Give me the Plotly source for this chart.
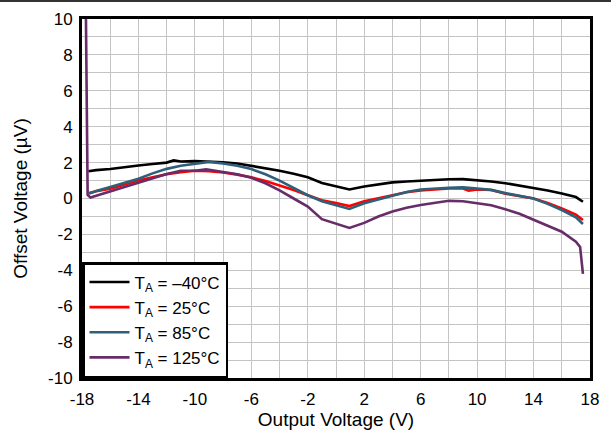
import plotly.graph_objects as go

# ---- data ----
x_m40 = [-17.55, -17, -16, -15, -14, -13, -12, -11.5, -11, -10, -9, -8, -7, -6, -5, -4, -3, -2, -1, 0, 0.95,
         2, 3, 4, 5, 6, 7, 8, 9, 10, 11, 12, 13, 14, 15, 16, 17, 17.5]
y_m40 = [1.52, 1.58, 1.64, 1.75, 1.84, 1.92, 2.0, 2.12, 2.06, 2.08, 2.06, 2.02, 1.95, 1.82, 1.70, 1.55, 1.38, 1.18, 0.86, 0.68, 0.5,
         0.67, 0.80, 0.9, 0.95, 1.0, 1.03, 1.07, 1.08, 1.02, 0.95, 0.85, 0.72, 0.55, 0.45, 0.28, 0.08, -0.18]

x_25 = [-17.5, -17, -16, -15, -14, -13, -12, -11, -10, -9, -8, -7, -6, -5, -4, -3, -2, -1, 0, 0.95,
        2, 3, 4, 5, 6, 7, 8, 9, 9.4, 10, 11, 12, 13, 14, 15, 16, 17, 17.5]
y_25 = [0.3, 0.4, 0.55, 0.78, 1.0, 1.18, 1.35, 1.47, 1.55, 1.52, 1.45, 1.33, 1.18, 0.97, 0.73, 0.47, 0.18, -0.1, -0.25, -0.42,
        -0.15, 0.03, 0.2, 0.35, 0.45, 0.5, 0.56, 0.56, 0.44, 0.5, 0.47, 0.27, 0.15, 0.0, -0.25, -0.55, -0.9, -1.2]

x_85 = [-17.5, -17, -16, -15, -14, -13, -12, -11, -10, -9, -8, -7, -6, -5, -4, -3, -2, -1, 0, 0.95,
        2, 3, 4, 5, 6, 7, 8, 9, 10, 11, 12, 13, 14, 15, 16, 17, 17.5]
y_85 = [0.27, 0.42, 0.64, 0.87, 1.1, 1.4, 1.65, 1.82, 1.95, 2.04, 1.95, 1.82, 1.64, 1.35, 1.0, 0.6, 0.18, -0.15, -0.38, -0.58,
        -0.27, -0.05, 0.18, 0.36, 0.5, 0.56, 0.6, 0.62, 0.55, 0.48, 0.3, 0.15, 0.0, -0.3, -0.64, -1.05, -1.42]

x_125 = [-17.72, -17.6, -17.4, -17, -16, -15, -14, -13, -12, -11, -10, -9.2, -9, -8, -7, -6, -5, -4, -3, -2, -1, 0, 0.95,
         2, 3, 4, 5, 6, 7, 8, 9, 10, 11, 12, 13, 14, 15, 16, 17, 17.3, 17.5]
y_125 = [10, 0.2, 0.05, 0.15, 0.36, 0.62, 0.9, 1.12, 1.36, 1.55, 1.55, 1.62, 1.6, 1.48, 1.35, 1.15, 0.85, 0.45, 0.0, -0.45, -1.15, -1.4, -1.64,
         -1.36, -1.0, -0.73, -0.52, -0.36, -0.25, -0.13, -0.15, -0.27, -0.38, -0.6, -0.85, -1.18, -1.5, -1.85, -2.4, -2.7, -4.2]

series_names = ["T<sub>A</sub> = \u201340\u00b0C", "T<sub>A</sub> = 25\u00b0C",
                "T<sub>A</sub> = 85\u00b0C", "T<sub>A</sub> = 125\u00b0C"]
series_colors = ["#000000", "#ff0000", "#2e6179", "#682c68"]

x_ticks = [-18, -14, -10, -6, -2, 2, 6, 10, 14, 18]
y_ticks = [-10, -8, -6, -4, -2, 0, 2, 4, 6, 8, 10]

# grid positions (every 2 V on x, every 1 uV on y); only the tick values get labels
x_grid = list(range(-18, 19, 2))
y_grid = list(range(-10, 11, 1))
x_text = [str(v) if v in x_ticks else "" for v in x_grid]
y_text = [str(v) if v in y_ticks else "" for v in y_grid]

FONT = "Liberation Sans, Arial, sans-serif"
FS = 17
FT = 19

fig = go.Figure()
for xs, ys, name, col in zip([x_m40, x_25, x_85, x_125], [y_m40, y_25, y_85, y_125],
                             series_names, series_colors):
    fig.add_trace(go.Scatter(x=xs, y=ys, mode="lines", name=name,
                             line=dict(color=col, width=2.6)))

fig.update_xaxes(range=[-18, 18], tickmode="array", tickvals=x_grid, ticktext=x_text, ticks="",
                 showline=True, mirror=True, linecolor="black", linewidth=3,
                 showgrid=True, gridcolor="#c4c4c4", gridwidth=1.3, zeroline=False, automargin=False,
                 ticklabelstandoff=4,
                 tickfont=dict(size=FS, color="black", family=FONT),
                 title=dict(text="Output Voltage (V)", font=dict(size=FT, color="black", family=FONT), standoff=6))
fig.update_yaxes(range=[-10, 10], tickmode="array", tickvals=y_grid, ticktext=y_text, ticks="",
                 showline=True, mirror=True, linecolor="black", linewidth=3,
                 showgrid=True, gridcolor="#c4c4c4", gridwidth=1.3, zeroline=False, automargin=False,
                 ticklabelstandoff=3,
                 tickfont=dict(size=FS, color="black", family=FONT),
                 title=dict(text="Offset Voltage (\u00b5V)", font=dict(size=FT, color="black", family=FONT), standoff=16))

fig.update_layout(
    width=611, height=430,
    margin=dict(l=82, r=21, t=19, b=52),
    paper_bgcolor="white", plot_bgcolor="white",
    font=dict(family=FONT, color="black"),
    showlegend=True,
    legend=dict(x=0, y=0, xanchor="left", yanchor="bottom", bgcolor="white",
                bordercolor="black", borderwidth=2.5, font=dict(size=17, color="black", family=FONT),
                tracegroupgap=0, itemwidth=40),
)

# thin frame line at top of the figure
fig.add_shape(type="line", xref="paper", yref="paper", x0=-82/508, x1=1+21/508,
              y0=1+18/359, y1=1+18/359, line=dict(color="#333333", width=2))

fig.write_html("out.html", config={"displayModeBar": False},
               post_script="document.body.style.margin='0';")
